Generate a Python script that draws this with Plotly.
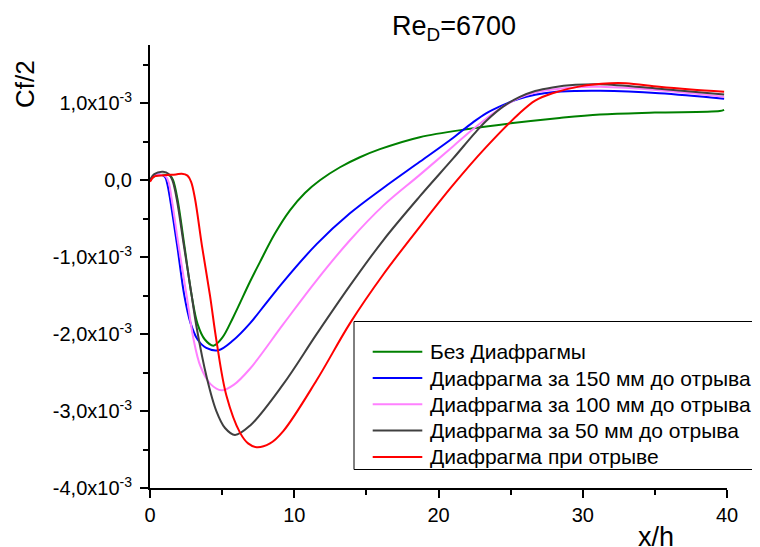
import plotly.graph_objects as go

# ---- data (Cf/2 values given in units of 1e-3) ----
names = ["Без Диафрагмы", "Диафрагма за 150 мм до отрыва", "Диафрагма за 100 мм до отрыва",
         "Диафрагма за 50 мм до отрыва", "Диафрагма при отрыве"]
colors = ["#008000", "#0000FF", "#FF80FF", "#404040", "#FF0000"]

x_green = [0, 0.3, 0.9, 1.4, 1.6, 1.9, 2.4, 2.89, 3.3, 3.8, 4.4, 5.0, 5.77, 6.93, 7.62, 8.66, 9.70, 10.74, 11.78, 13.17, 14.55, 15.94, 18.7, 22.2, 25.0, 28.4, 31.2, 35.0, 39.5, 39.8]
y_green = [0, 0.05, 0.07, 0.06, 0.0, -0.24, -0.87, -1.5, -1.87, -2.07, -2.15, -2.05, -1.78, -1.32, -1.064, -0.693, -0.391, -0.165, 0.0, 0.169, 0.299, 0.404, 0.56, 0.67, 0.74, 0.81, 0.855, 0.88, 0.90, 0.915]

x_blue = [0, 0.3, 0.8, 1.05, 1.2, 1.39, 1.9, 2.38, 2.8, 3.3, 3.9, 4.73, 5.77, 6.93, 8.0, 9.24, 11.55, 13.86, 16.17, 18.7, 21.0, 22.3, 23.3, 24.5, 25.6, 26.7, 27.9, 29.5, 31.2, 35.3, 39.8]
y_blue = [0, 0.06, 0.07, 0.04, -0.05, -0.24, -0.87, -1.5, -1.85, -2.07, -2.18, -2.21, -2.08, -1.86, -1.61, -1.32, -0.83, -0.43, -0.10, 0.24, 0.55, 0.74, 0.87, 0.98, 1.06, 1.11, 1.145, 1.16, 1.162, 1.13, 1.06]

x_pink = [0, 0.3, 0.8, 1.1, 1.3, 1.5, 2.0, 2.54, 3.0, 3.5, 4.2, 4.97, 5.8, 6.93, 9.24, 11.55, 13.86, 16.17, 18.7, 21.0, 22.3, 23.3, 24.5, 25.6, 26.7, 27.9, 29.5, 31.2, 35.3, 39.8]
y_pink = [0, 0.06, 0.07, 0.05, -0.03, -0.24, -0.87, -1.5, -2.05, -2.42, -2.65, -2.73, -2.66, -2.45, -1.87, -1.30, -0.78, -0.33, 0.07, 0.44, 0.65, 0.80, 0.96, 1.07, 1.14, 1.18, 1.21, 1.215, 1.17, 1.085]

x_black = [0, 0.3, 0.9, 1.3, 1.55, 1.85, 2.35, 2.89, 3.23, 3.93, 4.6, 5.2, 5.89, 6.93, 9.24, 11.55, 13.86, 16.17, 18.7, 21.0, 22.5, 23.3, 24.5, 25.6, 26.7, 27.9, 29.5, 31.2, 35.3, 39.8]
y_black = [0, 0.08, 0.11, 0.08, 0.0, -0.24, -0.85, -1.5, -1.91, -2.56, -3.0, -3.22, -3.31, -3.19, -2.65, -2.0, -1.37, -0.78, -0.21, 0.28, 0.61, 0.77, 0.96, 1.08, 1.16, 1.207, 1.24, 1.248, 1.19, 1.115]

x_red = [0, 0.3, 1.0, 1.8, 2.2, 2.6, 2.85, 3.12, 3.6, 4.16, 4.62, 5.3, 6.24, 6.8, 7.39, 8.32, 9.24, 11.55, 13.86, 16.17, 18.7, 21.0, 23.3, 25.6, 26.7, 27.9, 29.8, 31.9, 33.0, 35.3, 37.5, 39.8]
y_red = [-0.02, 0.05, 0.065, 0.075, 0.085, 0.06, -0.02, -0.24, -0.85, -1.5, -2.1, -2.8, -3.28, -3.42, -3.47, -3.42, -3.26, -2.60, -1.86, -1.225, -0.605, -0.064, 0.43, 0.867, 1.035, 1.13, 1.22, 1.26, 1.26, 1.215, 1.18, 1.15]

xs = [x_green, x_blue, x_pink, x_black, x_red]
ys = [y_green, y_blue, y_pink, y_black, y_red]

y_tick_vals = [-4, -3, -2, -1, 0, 1]
y_tick_text = ["-4,0x10<sup>-3</sup>", "-3,0x10<sup>-3</sup>", "-2,0x10<sup>-3</sup>",
               "-1,0x10<sup>-3</sup>", "0,0", "1,0x10<sup>-3</sup>"]
x_tick_vals = [0, 10, 20, 30, 40]

FONT = "Liberation Sans, Arial, sans-serif"
OFF = 8                      # page body margin of the html page
W, H = 752, 539
L, R, T, B = 142, 33, 37, 59
PW, PH = W - L - R, H - T - B


def px(xp):
    """page x pixel -> paper coordinate"""
    return (xp - OFF - L) / PW


def py(yp):
    """page y pixel -> paper coordinate"""
    return (H - B - (yp - OFF)) / PH


fig = go.Figure()
for n, c, xv, yv in zip(names, colors, xs, ys):
    fig.add_trace(go.Scatter(x=xv, y=[v * 1e-3 for v in yv], mode="lines", name=n, showlegend=False,
                             line=dict(color=c, width=2, shape="spline", smoothing=1.0)))

fig.update_layout(
    width=W, height=H, margin=dict(l=L, r=R, t=T, b=B),
    paper_bgcolor="white", plot_bgcolor="white",
    font=dict(family=FONT, color="black", size=20),
    xaxis=dict(range=[0, 40], tickvals=x_tick_vals, showgrid=False, zeroline=False,
               showline=True, linecolor="black", linewidth=2, ticks="outside",
               ticklen=8, tickwidth=2, tickcolor="black",
               minor=dict(dtick=5, ticks="outside", ticklen=5, tickwidth=2, tickcolor="black", showgrid=False),
               tickfont=dict(size=20)),
    yaxis=dict(range=[-4e-3, 1.758e-3], tickvals=[v * 1e-3 for v in y_tick_vals], ticktext=y_tick_text,
               showgrid=False, zeroline=False, showline=True, linecolor="black", linewidth=2,
               ticks="outside", ticklen=8, tickwidth=2, tickcolor="black", ticklabelstandoff=4,
               minor=dict(dtick=0.5e-3, tick0=0, ticks="outside", ticklen=5, tickwidth=2, tickcolor="black", showgrid=False),
               tickfont=dict(size=20)),
)

# legend box (drawn like the original, extending past the right edge)
fig.add_shape(type="rect", xref="paper", yref="paper", x0=px(354), x1=px(780), y0=py(469.5), y1=py(321.5),
              line=dict(color="black", width=1), fillcolor="white", layer="above")
for i, (n, c) in enumerate(zip(names, colors)):
    yy = 351.7 + 26.3 * i
    fig.add_shape(type="line", xref="paper", yref="paper", x0=px(372.7), x1=px(422.3), y0=py(yy), y1=py(yy),
                  line=dict(color=c, width=2), layer="above")
    fig.add_annotation(text=n, x=px(427.7), y=py(yy), xref="paper", yref="paper", showarrow=False,
                       xanchor="left", yanchor="middle", font=dict(size=21, family=FONT))

fig.add_annotation(text="Re<sub>D</sub>=6700", x=px(454), y=py(28), xref="paper", yref="paper",
                   showarrow=False, font=dict(size=27, family=FONT), xanchor="center", yanchor="middle")
fig.add_annotation(text="Cf/2", x=px(25), y=py(84), xref="paper", yref="paper", textangle=-90,
                   showarrow=False, font=dict(size=26, family=FONT), xanchor="center", yanchor="middle")
fig.add_annotation(text="x/h", x=px(656), y=py(537), xref="paper", yref="paper",
                   showarrow=False, font=dict(size=27, family=FONT), xanchor="center", yanchor="middle")

fig.write_html("out.html")
